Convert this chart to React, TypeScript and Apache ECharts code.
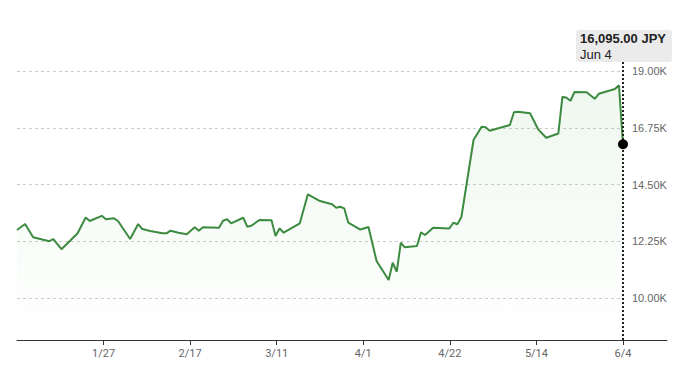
import React, { useEffect, useRef } from "react";
import * as echarts from "echarts";

// Day offsets from Jan 5 (axis start) and closing prices
const dayOffsets = [
  0, 2, 4, 8, 9, 11, 15, 17, 18, 21, 22, 24, 25, 28, 30, 31, 33, 36, 37, 38,
  40, 42, 44, 45, 46, 50, 51, 52, 53, 56, 57, 58, 60, 63, 64, 65, 66, 70, 72, 75,
  78, 79, 80, 81, 82, 85, 87, 89, 92, 93, 94, 95, 96, 99, 100, 101, 103, 107, 108, 109,
  110, 113, 115, 116, 117, 122, 123, 124, 127, 129, 131, 134, 135, 136, 137, 138, 141, 143, 144, 148,
  149, 150,
];
const prices = [
  12696, 12934, 12406, 12252, 12339, 11934, 12565, 13191, 13052, 13259, 13120, 13160, 13052, 12339, 12934, 12735, 12656, 12565, 12565, 12668,
  12589, 12525, 12803, 12668, 12803, 12787, 13064, 13120, 12961, 13183, 12827, 12866, 13092, 13080, 12458, 12763, 12589, 12961, 14111, 13845,
  13715, 13580, 13620, 13556, 12993, 12715, 12815, 11466, 10713, 11399, 11042, 12192, 12010, 12061, 12605, 12497, 12787, 12755, 12985, 12926,
  13211, 16264, 16791, 16768, 16633, 16859, 17362, 17386, 17323, 16688, 16355, 16522, 17977, 17941, 17822, 18167, 18155, 17898, 18096, 18286,
  18437, 16095,
];
const totalDays = 150;
const xTickLabels = ["1/27", "2/17", "3/11", "4/1", "4/22", "5/14", "6/4"];
const yTickValues = [10000, 12250, 14500, 16750, 19000];
const currency = "JPY";
const lastDateLabel = "Jun 4";

export default function App() {
  const ref = useRef<HTMLDivElement>(null);
  useEffect(() => {
    if (!ref.current) return;
    const chart = echarts.init(ref.current, null, { renderer: "svg" });
    const data = dayOffsets.map((d, i) => [d, prices[i]]);
    const step = totalDays / xTickLabels.length;
    const xTicks = xTickLabels.map((_, i) => step * (i + 1));
    const last = data[data.length - 1];
    const lastText =
      last[1].toLocaleString("en-US", { minimumFractionDigits: 2, maximumFractionDigits: 2 }) +
      " " +
      currency;
    const font = '"Liberation Sans", Arial, sans-serif';
    chart.setOption({
      animation: false,
      grid: [
        { left: 17, right: 57, top: 62, bottom: 25 },
        { left: 17, right: 13, top: 62, bottom: 25 },
      ],
      xAxis: [
        {
          type: "value",
          gridIndex: 0,
          min: 0,
          max: totalDays,
          axisLine: { show: false },
          axisTick: { show: true, customValues: xTicks, length: 5, lineStyle: { color: "#333" } },
          axisLabel: {
            customValues: xTicks,
            formatter: (v: number) => xTickLabels[Math.round(v / step) - 1] ?? "",
            color: "#666",
            fontSize: 11,
            fontFamily: '"Liberation Sans Narrow", "Roboto", sans-serif',
            margin: 8,
          },
          splitLine: { show: false },
        },
        {
          type: "value",
          gridIndex: 1,
          min: 0,
          max: 1,
          axisLine: { show: true, lineStyle: { color: "#333", width: 1 } },
          axisTick: { show: false },
          axisLabel: { show: false },
          splitLine: { show: false },
        },
      ],
      yAxis: [
        {
          type: "value",
          gridIndex: 0,
          position: "right",
          min: 8335,
          max: 19357,
          axisLine: { show: false },
          axisTick: { show: false, customValues: yTickValues },
          axisLabel: {
            customValues: yTickValues,
            formatter: (v: number) => (v / 1000).toFixed(2) + "K",
            color: "#666",
            fontSize: 11,
            margin: 9,
            fontFamily: font,
          },
          splitLine: { show: true, lineStyle: { color: "#ccc", type: [3, 3], width: 1 } },
        },
        { type: "value", gridIndex: 1, show: false, min: 0, max: 1 },
      ],
      series: [
        {
          type: "line",
          xAxisIndex: 0,
          yAxisIndex: 0,
          data,
          showSymbol: false,
          lineStyle: { color: "#3d8b40", width: 2 },
          areaStyle: {
            origin: "start",
            color: new echarts.graphic.LinearGradient(0, 0, 0, 1, [
              { offset: 0, color: "rgba(76,175,80,0.13)" },
              { offset: 1, color: "rgba(76,175,80,0)" },
            ]),
          },
          markLine: {
            silent: true,
            symbol: "none",
            label: { show: false },
            lineStyle: { color: "#222", type: [2, 2], width: 2 },
            data: [{ xAxis: last[0] }],
          },
          z: 3,
        },
        {
          type: "scatter",
          xAxisIndex: 0,
          yAxisIndex: 0,
          data: [last],
          symbolSize: 10,
          itemStyle: { color: "#000", opacity: 1 },
          z: 5,
        },
      ],
      graphic: [
        {
          type: "group",
          right: 8,
          top: 30,
          children: [
            { type: "rect", shape: { x: 0, y: 0, width: 96, height: 32, r: 3 }, style: { fill: "#ebebeb" } },
            {
              type: "text",
              x: 4,
              y: 8,
              style: { text: lastText, font: "bold 13px " + font, fill: "#222", textVerticalAlign: "middle" },
            },
            {
              type: "text",
              x: 4,
              y: 24,
              style: { text: lastDateLabel, font: "13px " + font, fill: "#222", textVerticalAlign: "middle" },
            },
          ],
        },
      ],
    });
    return () => chart.dispose();
  }, []);
  return <div ref={ref} style={{ position: "absolute", left: 0, top: 0, width: 680, height: 365 }} />;
}
